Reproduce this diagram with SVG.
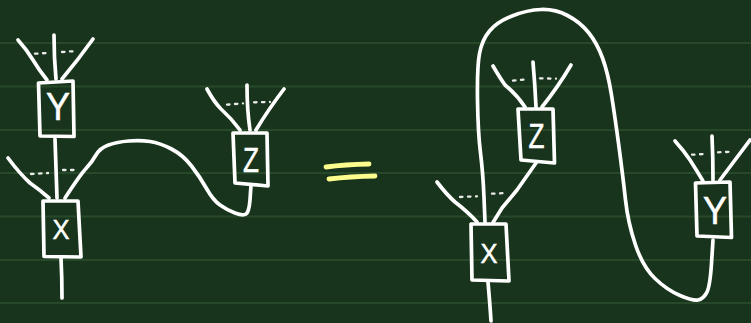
<svg xmlns="http://www.w3.org/2000/svg" width="751" height="323" viewBox="0 0 751 323">
<style>
.bg{fill:#18341c}
.rule{stroke:#274829;stroke-width:2;fill:none}
.w{fill:none;stroke:#fff;stroke-width:3.7;stroke-linecap:round;stroke-linejoin:round}
.box{fill:none;stroke:#fff;stroke-width:3.7;stroke-linecap:round;stroke-linejoin:round}
.d{fill:none;stroke:#fff;stroke-width:2.3;stroke-linecap:round;stroke-dasharray:2.5 5.500;opacity:.9}
.eq{fill:none;stroke:#fdfd8e;stroke-width:4.8;stroke-linecap:round}
.t{font-family:"Liberation Sans",Arial,sans-serif;fill:#fff;stroke:#fff;stroke-width:.5;text-anchor:middle}
</style>
<rect class="bg" width="751" height="323"/>
<g id="rules">
<path class="rule" d="M0 43H751M0 86.500H751M0 130H751M0 173H751M0 216.500H751M0 260H751M0 303H751"/>
</g>
<g id="connectors">
<path class="w" d="M18 40Q27 50 33 60Q39 70 47 80"/>
<path class="w" d="M54 35Q54 58 56 79"/>
<path class="w" d="M93 39Q78 60 62 79"/>
<path class="d" d="M35 53.700L48 53M62 52L77 51"/>
<path class="w" d="M55 139L57 198"/>
<path class="w" d="M8 158Q20 174 30 183Q40 190 49 198"/>
<path class="d" d="M31 174L48 173M63 170L78 170"/>
<path class="w" d="M65 198Q80 175 86 168.500Q92 162 96 155Q100 148 108.500 145Q117 142 128.500 141Q140 140 150 141.500Q160 143 171.500 149Q183 155 191.500 166Q200 177 206.500 188.500Q213 200 220 205Q227 210 235 213Q243 216 246 214Q249 212 250 200L251 185"/>
<path class="w" d="M61 258Q62 278 62 298"/>
<path class="w" d="M207 89Q214 102 221 109Q232 119 240 130"/>
<path class="w" d="M247 85Q247 110 250 130"/>
<path class="w" d="M284 89Q268 110 256 130"/>
<path class="d" d="M227 104.700L243 103.300M254 102.300L270 102"/>
<path class="eq" d="M326 167Q345 164.500 369 164"/>
<path class="eq" d="M329 179Q350 176.500 375 176"/>
<path class="w" d="M485 222L484 197.500Q483 173 480.500 153Q478 133 477.500 100Q477 67 479.500 53.500Q482 40 489.500 31Q497 22 512 16Q527 10 541 9.500Q555 9 567.500 15.500Q580 22 588.500 32.500Q597 43 602.500 58Q608 73 611.500 95Q615 117 619 147Q623 177 625.500 200Q628 223 635.500 245Q643 267 655 278.500Q667 290 680 295.500Q693 301 698 300Q703 299 706.500 293Q710 287 711.500 263.500L713 240"/>
<path class="w" d="M493 66Q500 78 505 85Q517 95 525 107"/>
<path class="w" d="M533 62Q535 85 536 107"/>
<path class="w" d="M571 65Q558 87 542 107"/>
<path class="d" d="M513 80.700L528 79.300M540 78.300L556 78.700"/>
<path class="w" d="M536 163L517 190L502 208L493 222.500"/>
<path class="w" d="M437 182Q447 195 455 202Q468 212 477 222"/>
<path class="d" d="M460 197L477 196.300M492 193.700L507 193"/>
<path class="w" d="M488 282Q490 305 491 321"/>
<path class="w" d="M675 141Q684 151 690 160Q697 171 703 181"/>
<path class="w" d="M712 136Q713 158 713 180"/>
<path class="w" d="M750 140Q735 160 720 180"/>
<path class="d" d="M692 154.700L705 154M718 152.300L733 151.700"/>
</g>
<g id="node-y-left">
<path class="box" d="M38.500 83L73 81L74 136.500L40 136Z"/>
<text class="t" x="58" y="120" font-size="38" textLength="24" lengthAdjust="spacingAndGlyphs">Y</text>
</g>
<g id="node-x-left">
<path class="box" d="M43 201L78 201L81 257L44 256.500Z"/>
<text class="t" x="61" y="239" font-size="28" textLength="17" lengthAdjust="spacingAndGlyphs">X</text>
</g>
<g id="node-z-left">
<path class="box" d="M233 133L267 133L268 186L235 183Z"/>
<text class="t" x="251" y="172" font-size="35" textLength="16" lengthAdjust="spacingAndGlyphs">Z</text>
</g>
<g id="node-z-right">
<path class="box" d="M518 109L553 109L554.500 163L521 160Z"/>
<text class="t" x="536.500" y="148" font-size="35" textLength="16" lengthAdjust="spacingAndGlyphs">Z</text>
</g>
<g id="node-x-right">
<path class="box" d="M471 224L506 224L509 281L472 280Z"/>
<text class="t" x="489" y="263" font-size="28" textLength="17" lengthAdjust="spacingAndGlyphs">X</text>
</g>
<g id="node-y-right">
<path class="box" d="M695.500 183L730 182L731.500 237.500L697 236Z"/>
<text class="t" x="715" y="224" font-size="38" textLength="24" lengthAdjust="spacingAndGlyphs">Y</text>
</g>
</svg>
